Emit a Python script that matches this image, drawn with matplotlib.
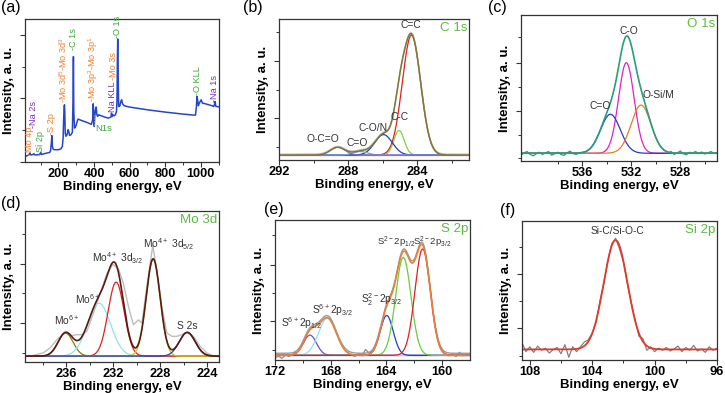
import numpy as np
import matplotlib
matplotlib.use("Agg")
import matplotlib.pyplot as plt
from matplotlib.ticker import FixedLocator

plt.rcParams['font.family'] = ['Liberation Sans', 'DejaVu Sans']
plt.rcParams['mathtext.default'] = 'regular'

# ---------------- data ----------------
# (a) survey spectrum
a_energy = [15, 25, 35, 40, 45, 55, 62, 66, 75, 95, 100, 103, 106, 120, 150, 155, 160, 163, 166, 170,
            175, 200, 215, 222, 226, 229, 232, 234, 236, 238, 242, 248, 254, 258, 262, 270, 278, 282,
            284, 286, 290, 295, 300, 305, 310, 330, 360, 385, 392, 395, 398, 401, 404, 408, 412, 416,
            420, 425, 435, 460, 480, 495, 498, 502, 507, 512, 520, 526, 529, 531, 533, 535, 538, 545,
            550, 555, 560, 570, 600, 700, 800, 900, 960, 970, 975, 978, 982, 986, 990, 996, 1002, 1008,
            1020, 1050, 1065, 1072, 1076, 1080, 1084, 1090, 1100]
a_counts = [4.0, 4.4, 5.1, 6.3, 4.9, 5.1, 5.8, 5.1, 4.9, 5.3, 6.7, 5.6, 5.3, 5.8, 6.7, 7.4, 13.3, 18.4, 11.0, 9.0,
            8.6, 8.6, 9.3, 11.0, 16.7, 29.5, 38.8, 40.0, 33.0, 20.0, 18.0, 19.0, 22.6, 21.4, 18.6, 19.0, 20.7, 43.5,
            73.7, 36.5, 23.7, 24.4, 26.0, 28.4, 30.0, 29.0, 27.7, 26.3, 29.5, 40.7, 35.3, 25.0, 31.9, 36.5, 38.4, 33.0,
            31.9, 33.0, 32.6, 31.4, 30.7, 31.4, 34.2, 31.9, 33.0, 32.3, 33.0, 35.3, 43.5, 71.4, 86.0, 66.7, 38.8, 39.3,
            42.3, 43.5, 40.7, 39.3, 38.4, 36.5, 34.9, 33.5, 32.8, 32.8, 38.8, 45.8, 43.5, 39.3, 40.7, 42.3, 43.5, 41.2,
            40.9, 39.8, 39.3, 38.8, 40.0, 42.3, 39.0, 38.8, 38.6]
a_labels = ["-Mo 4p", "-Na 2s", "-Si 2p", "-S 2p", "-Mo 3d$^5$-Mo 3d$^3$", "-C 1s", "-Mo 3p$^3$-Mo 3p$^1$",
            "Na KLL", "-Mo 3s", "-O 1s", "-O KLL", "-Na 1s"]
a_label_x = [37, 62, 101, 159, 224, 284, 396, 504, 508, 532, 981, 1078]
a_label_y = [5, 24, 5, 19, 41, 78, 42, 35, 57.5, 87, 47, 42]
a_label_kind = ["mo", "na", "g", "mo", "mo", "g", "mo", "na", "mo", "g", "g", "na"]

# (b) C 1s components
b_names = ["C=C", "C-C", "C-O/N", "C=O", "O-C=O"]
b_center = [284.33, 285.05, 285.95, 287.3, 288.6]
b_height = [85.0, 17.5, 14.5, 2.5, 5.5]
b_fwhm = [1.25, 0.7, 1.2, 1.0, 1.0]
b_base = 3.5

# (c) O 1s components
c_names = ["C-O", "C=O", "O-Si/M"]
c_center = [532.4, 533.7, 531.2]
c_height = [62.0, 26.7, 33.0]
c_fwhm = [1.5, 1.9, 1.9]
c_base = 5.3
c_noise_left = [4.0, 5.5, 6.5, 4.5, 3.5, 5.0, 6.0, 4.5, 5.5, 6.5, 4.0, 5.0, 6.0, 4.5, 3.8, 5.5, 6.8, 5.0,
                4.5, 5.5, 6.0]            # 541 -> 536 eV
c_noise_right = [5.5, 6.5, 4.5, 5.5, 6.8, 5.0, 4.2, 6.0, 5.5, 6.5, 5.0, 6.2, 4.8, 5.5, 6.5, 5.2, 5.8]  # 529 -> 525 eV

# (d) Mo 3d components
d_names = ["Mo6+ (236)", "Mo6+ (233)", "Mo4+ 3d3/2", "Mo4+ 3d5/2", "S 2s"]
d_center = [236.05, 233.2, 231.75, 228.6, 225.7]
d_height = [15.3, 35.0, 49.0, 64.4, 15.7]
d_fwhm = [1.5, 2.3, 1.6, 1.4, 1.6]
d_base = 3.9
d_raw_e = [239.49, 238.78, 237.93, 237.36, 236.79, 236.09, 235.52, 235.09, 234.67, 234.24, 233.68, 233.11,
           232.54, 232.03, 231.55, 231.13, 230.70, 230.28, 229.85, 229.56, 229.14, 228.86, 228.63, 228.29,
           227.86, 227.44, 227.01, 226.59, 226.16, 225.73, 225.18, 224.61, 224.04, 223.47, 222.96]
d_raw_y = [3.9, 4.4, 6.1, 9.4, 14.8, 19.2, 17.5, 18.1, 18.1, 20.3, 32.3, 45.4,
           58.5, 64.6, 61.8, 52.0, 36.7, 24.7, 27.9, 25.8, 49.8, 65.1, 77.1, 60.7,
           36.7, 19.2, 17.0, 17.0, 18.1, 19.7, 17.0, 10.5, 6.1, 3.9, 3.5]

# (e) S 2p components
e_names = ["S6+ 2p1/2", "S6+ 2p3/2", "S2 2- 2p3/2", "S2- 2p1/2", "S2- 2p3/2"]
e_center = [169.49, 168.24, 163.98, 162.79, 161.4]
e_height = [14.5, 26.5, 28.5, 70.0, 76.0]
e_fwhm = [1.1, 1.5, 1.1, 1.3, 1.3]
e_base = 3.3
e_raw_left_e = [172, 171.75, 171.5, 171.25, 171, 170.75, 170.5]
e_raw_left_y = [1.5, 2.8, 1.2, 3.5, 2.5, 4.0, 5.5]
e_raw_mid_e = [166.5, 166.25, 166, 165.75, 165.5, 165.25, 165]
e_raw_mid_y = [3.5, 2.5, 4.5, 3.0, 7.5, 5.0, 6.0]
e_raw_right_e = [159.75, 159.5, 159.25, 159, 158.75, 158.5, 158.25, 158]
e_raw_right_y = [4.5, 3.0, 4.0, 2.5, 5.5, 3.0, 4.0, 3.5]

# (f) Si 2p
f_center = [102.5]
f_height = [78.6]
f_fwhm = [1.8]
f_base = 7.6
f_raw_y = [12.5, 6.0, 9.5, 5.5, 10.0, 7.0, 8.5, 5.0, 7.5, 9.0, 4.5, 11.0, 2.0, 9.5, 6.0,   # 108.5 .. 105.0
           9.5, 13.0, 14.5, 19.5, 27.0, 42.5, 55.0, 71.0, 83.5, 87.5, 80.0, 70.5, 55.0, 41.5, 29.0,  # 104.75 .. 101.25
           17.0, 15.5, 7.0, 9.5, 6.0, 8.5, 7.0, 9.0, 6.5, 8.0, 10.0, 6.0, 9.0, 7.0, 10.5, 6.5,  # 101.0 .. 97.25
           8.0, 5.5, 9.5, 7.0, 8.5]  # 97.0 .. 96.0

# ---------------- helpers ----------------
def gauss(e, c, h, w):
    return h * np.exp(-4 * np.log(2) * ((e - c) / w) ** 2)

W, H = 725, 393
fig = plt.figure(figsize=(W / 100, H / 100), dpi=100)

def add_axes(l, r, t, b):
    return fig.add_axes([l / W, 1 - b / H, (r - l) / W, (b - t) / H])

GREEN_T = '#5DBB3F'
LBL = '#333333'
PK = 7.4

def style(ax, xlim, xmaj, xmin, ymaj, ymin):
    ax.set_xlim(*xlim)
    ax.set_ylim(0, 100)
    ax.xaxis.set_major_locator(FixedLocator(xmaj))
    ax.xaxis.set_minor_locator(FixedLocator(xmin))
    ax.yaxis.set_major_locator(FixedLocator(ymaj))
    ax.yaxis.set_minor_locator(FixedLocator(ymin))
    ax.tick_params(axis='both', which='major', direction='out', length=3.5, width=0.8, pad=1.0, color='#333333')
    ax.tick_params(axis='both', which='minor', direction='out', length=2, width=0.7, color='#333333')
    ax.tick_params(axis='y', labelleft=False)
    for lab in ax.get_xticklabels():
        lab.set_fontweight('bold')
        lab.set_fontsize(9.2)
    for s in ax.spines.values():
        s.set_linewidth(0.9)
        s.set_color('#333333')
    ax.set_xlabel("Binding energy, eV", fontsize=9.5, fontweight='bold', labelpad=0.2)
    ax.set_ylabel("Intensity, a. u.", fontsize=9.5, fontweight='bold', labelpad=2)

def panel_label(x, y, s):
    fig.text(x / W, 1 - y / H, s, fontsize=11.5, va='top', ha='left')

def title(ax, s):
    ax.text(0.99, 0.98, s, transform=ax.transAxes, fontsize=9.6, color=GREEN_T, ha='right', va='top')

# ---------------- (a) ----------------
ax = add_axes(25, 219, 19, 162)
ax.plot(a_energy, a_counts, color='#2546C8', lw=1.1)
style(ax, (12, 1102), [200, 400, 600, 800, 1000], [100, 300, 500, 700, 900, 1100],
      [0, 44.5, 88.8], [22.4, 66.6])
kind_col = {"mo": '#F08030', "na": '#7A30C0', "g": '#3FA83A'}
for s, x, y, k in zip(a_labels, a_label_x, a_label_y, a_label_kind):
    ax.text(x, y, s, rotation=90, ha='center', va='bottom', fontsize=6.6, color=kind_col[k])
ax.plot([400, 400], [33, 26], ls=':', color='#99B070', lw=0.8)
ax.text(405, 23.5, "N1s", fontsize=6.8, color='#3FA83A', ha='left', va='center')
panel_label(1, 0, "(a)")

# ---------------- (b) ----------------
ax = add_axes(279, 469, 19, 160)
eb = np.linspace(292, 281, 600)
b_cols = ['#E02020', '#7CD444', '#2040C0', '#6AA8E8', '#8064D8']
env = b_base + sum(gauss(eb, c, h, w) for c, h, w in zip(b_center, b_height, b_fwhm))
ax.plot(eb, np.full_like(eb, b_base), color='#D050D0', lw=0.9)
for c, h, w, col in zip(b_center, b_height, b_fwhm, b_cols):
    ax.plot(eb, b_base + gauss(eb, c, h, w), color=col, lw=0.9)
ax.plot(eb, env + 0.6, color='#BBBBBB', lw=1.0)
ax.plot(eb, env, color='#7E7A36', lw=1.1)
style(ax, (292, 281), [292, 288, 284], [290, 286, 282], [29.8, 70.2], [9.4, 49.6, 91])
b_lx = [284.35, 285.03, 286.58, 287.46, 289.44]
b_ly = [95.5, 30.3, 22.9, 11.8, 14.7]
for s, x, y in zip(b_names, b_lx, b_ly):
    ax.text(x, y, s, fontsize=PK, color=LBL, ha='center', va='center')
title(ax, "C 1s")
panel_label(243, 0, "(b)")

# ---------------- (c) ----------------
ax = add_axes(521, 717, 15, 161)
ec = np.linspace(541, 525, 600)
c_cols = ['#E020C8', '#2838C8', '#E08028']
env = c_base + sum(gauss(ec, c, h, w) for c, h, w in zip(c_center, c_height, c_fwhm))
for c, h, w, col in zip(c_center, c_height, c_fwhm, c_cols):
    ax.plot(ec, c_base + gauss(ec, c, h, w), color=col, lw=0.9)
ax.plot(np.arange(541, 535.9, -0.25), c_noise_left, color='#2A9D7A', lw=0.9)
ax.plot(np.arange(529, 524.9, -0.25), c_noise_right, color='#2A9D7A', lw=0.9)
ax.plot(ec, env, color='#2A9D7A', lw=1.2)
style(ax, (541, 525), [536, 532, 528], [538, 534, 530, 526], [34.2, 67.1], [1.8, 17.8, 50.7, 84.9])
c_lx = [532.2, 534.5, 529.8]
c_ly = [89, 37.7, 45]
for s, x, y in zip(c_names, c_lx, c_ly):
    ax.text(x, y, s, fontsize=PK, color=LBL, ha='center', va='center')
title(ax, "O 1s")
panel_label(488, 0, "(c)")

# ---------------- (d) ----------------
ax = add_axes(25, 219, 211, 362)
ed = np.linspace(239.5, 223, 600)
d_cols = ['#8A7A10', '#8EE4E4', '#E02020', '#C8C810', '#2040C0']
env = d_base + sum(gauss(ed, c, h, w) for c, h, w in zip(d_center, d_height, d_fwhm))
ax.plot(ed, np.full_like(ed, d_base), color='#9EE8E8', lw=0.9)
ax.plot(d_raw_e, d_raw_y, color='#BDBDBD', lw=1.0)
for c, h, w, col in zip(d_center, d_height, d_fwhm, d_cols):
    ax.plot(ed, d_base + gauss(ed, c, h, w), color=col, lw=0.9)
ax.plot(ed, env, color='#5A1A12', lw=1.2)
style(ax, (239.5, 223), [236, 232, 228, 224], [238, 234, 230, 226], [25.7, 65.1], [5.9, 45.4, 84.9])
d_labels = ["Mo$^{6+}$", "Mo$^{6+}$", "Mo$^{4+}$ 3d$_{3/2}$", "Mo$^{4+}$ 3d$_{5/2}$", "S 2s"]
d_lx = [235.94, 234.2, 231.64, 227.3, 225.68]
d_ly = [27.5, 41.5, 69, 77.7, 23.6]
for s, x, y in zip(d_labels, d_lx, d_ly):
    ax.text(x, y, s, fontsize=PK, color=LBL, ha='center', va='center')
title(ax, "Mo 3d")
panel_label(1, 196, "(d)")

# ---------------- (e) ----------------
ax = add_axes(275, 470, 220, 360)
ee = np.linspace(172, 158, 600)
e_cols = ['#7050C0', '#90E0F0', '#2040C0', '#62D040', '#E02020']
env = e_base + sum(gauss(ee, c, h, w) for c, h, w in zip(e_center, e_height, e_fwhm))
ax.plot(ee, np.full_like(ee, e_base), color='#8040C0', lw=0.9)
for xs, ys in [(e_raw_left_e, e_raw_left_y), (e_raw_mid_e, e_raw_mid_y), (e_raw_right_e, e_raw_right_y)]:
    ax.plot(xs, ys, color='#8A8A8A', lw=0.9)
ax.plot(ee, env + 1.5, color='#9A9A9A', lw=1.0)
for c, h, w, col in zip(e_center, e_height, e_fwhm, e_cols):
    ax.plot(ee, e_base + gauss(ee, c, h, w), color=col, lw=0.9)
ax.plot(ee, env, color='#E8803A', lw=1.2)
style(ax, (172, 158), [172, 168, 164, 160], [170, 166, 162], [27.7, 68.1], [7.1, 48.2, 89.4])
e_labels = ["S$^{6+}$2p$_{1/2}$", "S$^{6+}$2p$_{3/2}$", "S$_2^{2-}$2p$_{3/2}$",
            "S$^{2-}$2p$_{1/2}$", "S$^{2-}$2p$_{3/2}$"]
e_lx = [170.08, 167.86, 164.34, 163.3, 160.75]
e_ly = [26.5, 36, 43, 84.3, 84.3]
e_fs = [PK, PK, PK, 6.8, 6.8]
for s, x, y, fs in zip(e_labels, e_lx, e_ly, e_fs):
    ax.text(x, y, s, fontsize=fs, color=LBL, ha='center', va='center')
title(ax, "S 2p")
panel_label(264, 202, "(e)")

# ---------------- (f) ----------------
ax = add_axes(522, 717, 221, 360)
ef = np.linspace(108.5, 96, 600)
f_raw_e = np.arange(108.5, 95.9, -0.25)
ax.plot(f_raw_e, f_raw_y, color='#7A8484', lw=0.9)
fit = f_base + sum(gauss(ef, c, h, w) for c, h, w in zip(f_center, f_height, f_fwhm))
ax.plot(ef, fit, color='#E03A28', lw=1.3)
style(ax, (108.5, 96), [108, 104, 100, 96], [106, 102, 98], [22.9, 62.1], [2.9, 42.1, 81.4])
ax.text(102.37, 92.9, "Si-C/Si-O-C", fontsize=PK, color=LBL, ha='center', va='center')
title(ax, "Si 2p")
panel_label(500, 203, "(f)")

fig.savefig("out.png", dpi=100)
